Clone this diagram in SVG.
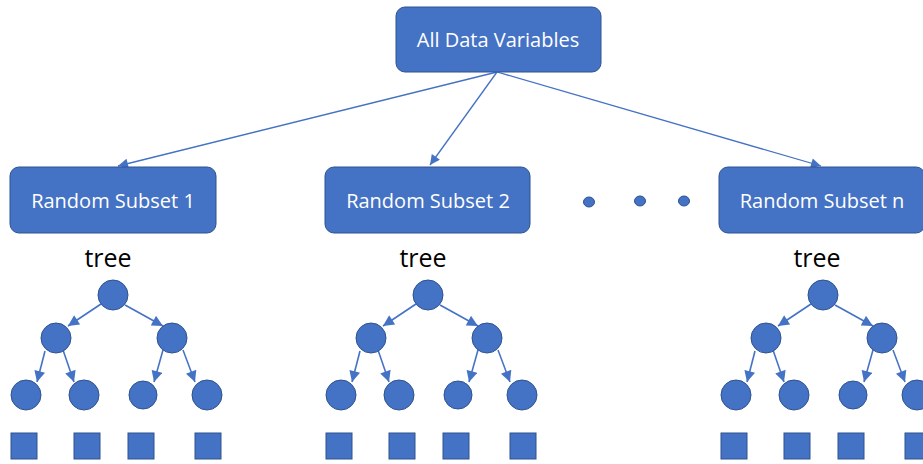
<svg xmlns="http://www.w3.org/2000/svg" width="923" height="464" viewBox="0 0 923 464">
<defs>
<style>
.box{fill:#4472C4;stroke:#2F528F;stroke-width:1}
.lbl{fill:#fff;font-family:"Open Sans","Liberation Sans",sans-serif;font-size:20px;text-anchor:middle}
.tree{fill:#000;font-family:"Open Sans","Liberation Sans",sans-serif;font-size:25px;text-anchor:middle}
.nd{fill:#4472C4;stroke:#2F528F;stroke-width:1}
.ln{stroke:#4472C4;stroke-width:1.3;fill:none}
.tl{stroke:#4472C4;stroke-width:1.6;fill:none}
</style>
<marker id="ah" viewBox="0 0 10 10" refX="10" refY="5" markerWidth="11" markerHeight="10" markerUnits="userSpaceOnUse" orient="auto">
<path d="M0,0 L10,5 L0,10 Z" fill="#4472C4"/>
</marker>
<marker id="ah2" viewBox="0 0 10 10" refX="10" refY="5" markerWidth="12" markerHeight="11" markerUnits="userSpaceOnUse" orient="auto">
<path d="M0,0 L10,5 L0,10 Z" fill="#4472C4"/>
</marker>
<g id="treeShape">
<g class="edges">
<line class="tl" x1="-12" y1="9" x2="-45" y2="31" marker-end="url(#ah2)"/>
<line class="tl" x1="12" y1="10" x2="50" y2="31" marker-end="url(#ah2)"/>
<line class="tl" x1="-68" y1="56" x2="-76" y2="87" marker-end="url(#ah2)"/>
<line class="tl" x1="-50" y1="55" x2="-39" y2="87" marker-end="url(#ah2)"/>
<line class="tl" x1="50" y1="55" x2="41" y2="87" marker-end="url(#ah2)"/>
<line class="tl" x1="70" y1="55" x2="82" y2="87" marker-end="url(#ah2)"/>
</g>
<circle class="nd" cx="0" cy="0" r="15"/>
<circle class="nd" cx="-57" cy="43" r="15"/>
<circle class="nd" cx="59" cy="43" r="15"/>
<circle class="nd" cx="-87" cy="100" r="15"/>
<circle class="nd" cx="-29" cy="100" r="15"/>
<circle class="nd" cx="30" cy="100" r="14"/>
<circle class="nd" cx="94" cy="100" r="15"/>
<rect class="nd" x="-102" y="138" width="26" height="26"/>
<rect class="nd" x="-39" y="138" width="26" height="26"/>
<rect class="nd" x="15" y="138" width="26" height="26"/>
<rect class="nd" x="82" y="138" width="26" height="26"/>
</g>
</defs>
<g id="connectors">
<line class="ln" x1="497" y1="72" x2="118" y2="166" marker-end="url(#ah)"/>
<line class="ln" x1="497" y1="72" x2="430" y2="165" marker-end="url(#ah)"/>
<line class="ln" x1="497" y1="72" x2="821" y2="166" marker-end="url(#ah)"/>
</g>
<g id="root">
<rect class="box" x="396" y="7" width="205" height="65" rx="9"/>
<text class="lbl" x="498" y="47">All Data Variables</text>
</g>
<g id="subset1">
<rect class="box" x="10" y="167" width="206" height="66" rx="9"/>
<text class="lbl" x="113" y="208">Random Subset 1</text>
</g>
<g id="subset2">
<rect class="box" x="325" y="167" width="205" height="66" rx="9"/>
<text class="lbl" x="428" y="208">Random Subset 2</text>
</g>
<g id="subsetn">
<rect class="box" x="719" y="167" width="206" height="66" rx="9"/>
<text class="lbl" x="822" y="208">Random Subset n</text>
</g>
<g id="ellipsis">
<ellipse class="nd" cx="589" cy="202" rx="5.5" ry="5"/>
<ellipse class="nd" cx="640" cy="201" rx="5.5" ry="5"/>
<ellipse class="nd" cx="684" cy="201" rx="5.5" ry="5"/>
</g>
<g id="tree1">
<text class="tree" x="108" y="267">tree</text>
<use href="#treeShape" transform="translate(113,295)"/>
</g>
<g id="tree2">
<text class="tree" x="423" y="267">tree</text>
<use href="#treeShape" transform="translate(428,295)"/>
</g>
<g id="tree3">
<text class="tree" x="817" y="267">tree</text>
<use href="#treeShape" transform="translate(823,295)"/>
</g>
</svg>
